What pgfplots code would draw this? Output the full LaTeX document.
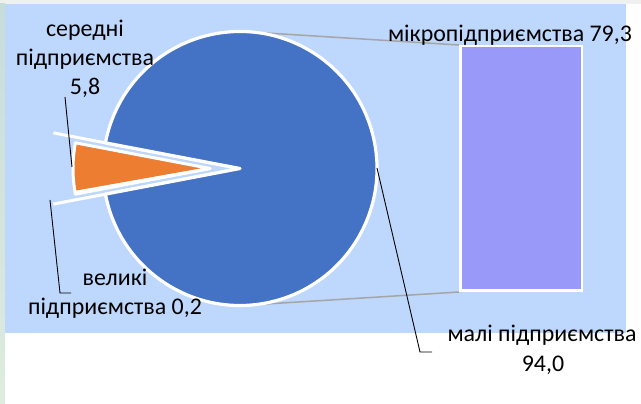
\documentclass[border=0pt]{standalone}
\usepackage{fontspec}
\setmainfont{Carlito}
\usepackage{pgfplots}
\usepackage{pgfplotstable}
\pgfplotsset{compat=1.18}
\definecolor{bgblue}{RGB}{190,215,253}
\definecolor{pieblue}{RGB}{68,114,196}
\definecolor{pieorange}{RGB}{237,125,49}
\definecolor{barlav}{RGB}{153,153,250}
\definecolor{conngray}{RGB}{165,165,165}
\definecolor{topstrip}{RGB}{238,241,238}
\newcommand\lbl{\fontsize{24}{28}\selectfont}
\tikzset{lab/.style={font=\lbl, text=black, inner sep=0pt, anchor=base}}
\pgfplotstableread{
name value
mali 94.0
seredni 5.8
velyki 0.2
}\piedata
\pgfplotstableread{
x y
0 79.3
}\bardata
\begin{document}
\begin{tikzpicture}
\path[use as bounding box] (0,0) rectangle (641bp,404bp);
\pgfplotstablegetelem{0}{value}\of\piedata \let\vA\pgfplotsretval
\pgfplotstablegetelem{1}{value}\of\piedata \let\vB\pgfplotsretval
\pgfplotstablegetelem{2}{value}\of\piedata \let\vC\pgfplotsretval
\pgfmathsetmacro\aS{-1.8*\vA}
\pgfmathsetmacro\aE{1.8*\vA}
\pgfmathsetmacro\aF{\aE+3.6*\vB}
\pgfmathsetmacro\aG{\aF+3.6*\vC}
\pgfmathsetmacro\aM{(\aE+\aG)/2}
\pgfmathsetmacro\ox{240+30*cos(\aM)}
\pgfmathsetmacro\oy{235.5+30*sin(\aM)}
\begin{axis}[
  at={(0,0)}, anchor=south west,
  width=641bp, height=404bp, scale only axis,
  xmin=0, xmax=641, ymin=0, ymax=404,
  enlargelimits=false, hide axis, clip=false,
]
% background
\fill[topstrip] (axis cs:0,400) rectangle (axis cs:641,404);
\shade[top color={rgb,255:red,200;green,220;blue,218}, bottom color={rgb,255:red,222;green,236;blue,224}] (axis cs:0,0) rectangle (axis cs:5,400);
\fill[bgblue] (axis cs:5,71) rectangle (axis cs:626,400);
% connector lines
\draw[conngray, line width=1.5bp] (axis cs:250,372) -- (axis cs:459,359);
\draw[conngray, line width=1.5bp] (axis cs:250,99) -- (axis cs:459,112);
% extended edges of the gap
\draw[white, line width=3bp] (axis cs:240,235.5) -- (axis cs:{240+190*cos(\aE)},{235.5+190*sin(\aE)});
\draw[white, line width=3bp] (axis cs:240,235.5) -- (axis cs:{240+190*cos(\aS)},{235.5+190*sin(\aS)});
% main slice
\filldraw[fill=pieblue, draw=white, line width=3.2bp, line join=round]
  (axis cs:240,235.5) -- (axis cs:{240+137*cos(\aS)},{235.5+137*sin(\aS)})
  arc[start angle=\aS, end angle=\aE, radius=137bp] -- cycle;
% exploded slices
\filldraw[fill=pieorange, draw=white, line width=3bp, line join=round]
  (axis cs:\ox,\oy) -- (axis cs:{\ox+137*cos(\aE)},{\oy+137*sin(\aE)})
  arc[start angle=\aE, end angle=\aF, radius=137bp] -- cycle;
\filldraw[fill=white, draw=white, line width=3bp, line join=round]
  (axis cs:\ox,\oy) -- (axis cs:{\ox+137*cos(\aF)},{\oy+137*sin(\aF)})
  arc[start angle=\aF, end angle=\aG, radius=137bp] -- cycle;
% leader lines
\draw[black, line width=0.9bp] (axis cs:65,307) -- (axis cs:72,237);
\draw[black, line width=0.9bp] (axis cs:50,204) -- (axis cs:60,111) -- (axis cs:71,111);
\draw[black, line width=0.9bp] (axis cs:377,236) -- (axis cs:420,52) -- (axis cs:432,52);
% labels
\node[lab] at (axis cs:85,367) {середні};
\node[lab] at (axis cs:85,338) {підприємства};
\node[lab] at (axis cs:85,309) {5,8};
\node[lab] at (axis cs:115,118) {великі};
\node[lab] at (axis cs:115,89.5) {підприємства 0,2};
\node[lab] at (axis cs:510,362) {мікропідприємства 79,3};
\node[lab] at (axis cs:542,62) {малі підприємства};
\node[lab] at (axis cs:543,32) {94,0};
\end{axis}
\begin{axis}[
  at={(460.25bp,113.25bp)}, anchor=south west,
  width=121.5bp, height=244.5bp, scale only axis,
  xmin=-0.5, xmax=0.5, ymin=0, ymax=79.3,
  hide axis, clip=false, ybar, bar width=121.5bp,
]
\addplot[fill=barlav, draw=white, line width=2.5bp] table[x=x, y=y] {\bardata};
\end{axis}
\end{tikzpicture}
\end{document}
